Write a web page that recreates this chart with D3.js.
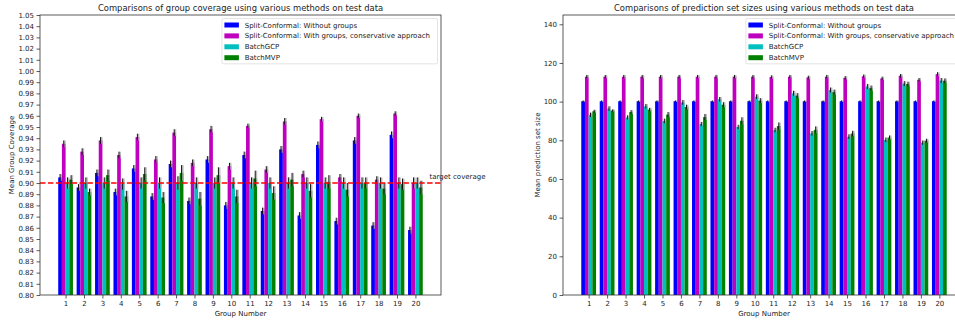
<!DOCTYPE html>
<html>
<head>
<meta charset="utf-8">
<script src="https://cdn.jsdelivr.net/npm/d3@7"></script>
<style>
  body { margin: 0; background: #fff; }
  svg { display: block; font-family: "DejaVu Sans", sans-serif; }
</style>
</head>
<body>
<svg id="fig" width="955" height="322"></svg>
<script>
// ---- data ----
const groups = [1, 2, 3, 4, 5, 6, 7, 8, 9, 10, 11, 12, 13, 14, 15, 16, 17, 18, 19, 20]
const seriesNames = [
  "Split-Conformal: Without groups",
  "Split-Conformal: With groups, conservative approach",
  "BatchGCP",
  "BatchMVP"
]
const seriesColors = ["#0000ff", "#bf00bf", "#00bfbf", "#008000"]

// mean group coverage
const covSplit   = [0.905, 0.896, 0.909, 0.892, 0.913, 0.888, 0.917, 0.884, 0.921, 0.880, 0.925, 0.875, 0.930, 0.871, 0.934, 0.866, 0.938, 0.862, 0.943, 0.858]
const covGroups  = [0.935, 0.928, 0.938, 0.925, 0.941, 0.921, 0.945, 0.918, 0.948, 0.915, 0.951, 0.912, 0.955, 0.908, 0.957, 0.905, 0.960, 0.903, 0.962, 0.900]
const covGCP     = [0.900, 0.900, 0.900, 0.899, 0.900, 0.900, 0.900, 0.900, 0.900, 0.900, 0.900, 0.900, 0.900, 0.900, 0.900, 0.900, 0.900, 0.900, 0.900, 0.900]
const covMVP     = [0.903, 0.892, 0.907, 0.888, 0.908, 0.887, 0.909, 0.886, 0.907, 0.888, 0.904, 0.891, 0.903, 0.893, 0.901, 0.894, 0.900, 0.895, 0.899, 0.896]
const covErrSplit  = [0.003, 0.003, 0.003, 0.003, 0.003, 0.003, 0.003, 0.003, 0.003, 0.003, 0.003, 0.003, 0.003, 0.003, 0.003, 0.003, 0.003, 0.003, 0.003, 0.003]
const covErrGroups = [0.003, 0.003, 0.003, 0.003, 0.003, 0.003, 0.003, 0.003, 0.003, 0.003, 0.002, 0.003, 0.003, 0.003, 0.002, 0.003, 0.002, 0.003, 0.002, 0.005]
const covErrGCP    = [0.005, 0.005, 0.005, 0.005, 0.005, 0.005, 0.006, 0.005, 0.005, 0.005, 0.005, 0.005, 0.005, 0.005, 0.005, 0.005, 0.005, 0.005, 0.005, 0.005]
const covErrMVP    = [0.004, 0.003, 0.005, 0.005, 0.006, 0.005, 0.007, 0.006, 0.007, 0.006, 0.007, 0.006, 0.006, 0.006, 0.006, 0.006, 0.005, 0.005, 0.005, 0.006]

// mean prediction set size
const sizeSplit  = [100.2, 100.2, 100.2, 100.2, 100.2, 100.2, 100.2, 100.2, 100.2, 100.2, 100.2, 100.2, 100.2, 100.2, 100.2, 100.2, 100.2, 100.2, 100.2, 100.2]
const sizeGroups = [112.9, 112.9, 112.9, 112.9, 112.9, 112.9, 112.9, 112.9, 112.9, 112.9, 112.7, 112.9, 112.5, 112.9, 112.3, 113.1, 112.0, 113.4, 111.3, 114.2]
const sizeGCP    = [93.2, 96.4, 91.8, 97.6, 90.0, 99.6, 88.4, 101.2, 86.9, 102.6, 85.3, 104.3, 83.6, 106.0, 81.9, 107.8, 80.2, 109.3, 78.8, 110.9]
const sizeMVP    = [95.0, 95.4, 94.6, 95.9, 93.3, 97.2, 92.0, 98.4, 90.1, 100.5, 87.4, 103.1, 85.4, 104.9, 83.5, 107.0, 81.4, 109.1, 79.8, 110.8]
const sizeErrSplit  = [0.4, 0.4, 0.4, 0.4, 0.4, 0.4, 0.4, 0.4, 0.4, 0.4, 0.4, 0.4, 0.4, 0.4, 0.4, 0.4, 0.4, 0.4, 0.4, 0.4]
const sizeErrGroups = [0.9, 0.9, 0.9, 0.9, 0.9, 0.9, 0.9, 0.9, 0.9, 0.9, 0.9, 0.9, 0.9, 0.9, 0.9, 0.9, 0.9, 0.9, 0.9, 1.0]
const sizeErrGCP    = [1.1, 1.2, 1.1, 1.2, 1.2, 1.2, 1.1, 1.2, 1.1, 1.2, 1.2, 1.3, 1.2, 1.3, 1.2, 1.3, 1.2, 1.3, 1.1, 1.3]
const sizeErrMVP    = [0.8, 0.6, 1.0, 0.9, 1.3, 1.2, 1.6, 1.3, 1.8, 1.3, 1.8, 1.3, 1.8, 1.3, 1.4, 1.3, 1.1, 1.2, 1.0, 1.2]

const coverageTicks = [0.80, 0.81, 0.82, 0.83, 0.84, 0.85, 0.86, 0.87, 0.88, 0.89, 0.90, 0.91, 0.92, 0.93, 0.94, 0.95, 0.96, 0.97, 0.98, 0.99, 1.00, 1.01, 1.02, 1.03, 1.04, 1.05]
const sizeTicks = [0, 20, 40, 60, 80, 100, 120, 140]
const targetCoverage = 0.90

// ---- layout ----
const svg = d3.select("#fig")
svg.append("rect").attr("width", 955).attr("height", 322).attr("fill", "#fff")

const plotTop = 15, plotBottom = 295
const barW = 0.2
const offsets = [-0.3, -0.1, 0.1, 0.3]
const textColor = "#222"

function panel(cfg) {
  const g = svg.append("g")
  const x = d3.scaleLinear().domain([-0.39, 21.39]).range([cfg.left, cfg.right])
  const y = d3.scaleLinear().domain(cfg.yDomain).range([plotBottom, plotTop])

  // bars + error bars
  cfg.values.forEach((vals, si) => {
    const sg = g.append("g")
    sg.selectAll("rect")
      .data(groups)
      .join("rect")
        .attr("x", (d) => x(d + offsets[si] - barW / 2))
        .attr("width", x(barW) - x(0))
        .attr("y", (d, i) => y(vals[i]))
        .attr("height", (d, i) => plotBottom - y(vals[i]))
        .attr("fill", seriesColors[si])
    const errs = cfg.errors[si]
    sg.selectAll("line.grey")
      .data(groups)
      .join("line")
        .attr("class", "grey")
        .attr("x1", (d) => x(d + offsets[si]) + 1.2)
        .attr("x2", (d) => x(d + offsets[si]) + 1.2)
        .attr("y1", (d, i) => y(vals[i] - errs[i]))
        .attr("y2", (d, i) => y(vals[i] + errs[i]))
        .attr("stroke", "#aaa")
        .attr("stroke-opacity", 0.8)
        .attr("stroke-width", 1.6)
    sg.selectAll("line.blk")
      .data(groups)
      .join("line")
        .attr("class", "blk")
        .attr("x1", (d) => x(d + offsets[si]))
        .attr("x2", (d) => x(d + offsets[si]))
        .attr("y1", (d, i) => y(vals[i] - errs[i]))
        .attr("y2", (d, i) => y(vals[i] + errs[i]))
        .attr("stroke", "#111")
        .attr("stroke-width", 1)
  })

  if (cfg.target != null) {
    g.append("line")
      .attr("x1", cfg.left).attr("x2", cfg.right)
      .attr("y1", y(cfg.target)).attr("y2", y(cfg.target))
      .attr("stroke", "#ff0000")
      .attr("stroke-width", 1.6)
      .attr("stroke-dasharray", "5.5,2.4")
    g.append("text")
      .attr("x", cfg.right - 11.5)
      .attr("y", y(cfg.target) - 4.5)
      .attr("font-size", 7)
      .attr("fill", textColor)
      .text("target coverage")
  }

  // axes
  const yAxis = g.append("g")
    .attr("transform", `translate(${cfg.left},0)`)
    .call(d3.axisLeft(y).tickValues(cfg.ticks).tickFormat(cfg.tickFormat).tickSize(3.5).tickPadding(2.5))
  const xAxis = g.append("g")
    .attr("transform", `translate(0,${plotBottom})`)
    .call(d3.axisBottom(x).tickValues(groups).tickFormat(d3.format("d")).tickSize(3.5).tickPadding(2.5))
  for (const ax of [yAxis, xAxis]) {
    ax.select(".domain").remove()
    ax.selectAll("line").attr("stroke", "#333").attr("stroke-width", 0.8)
    ax.selectAll("text")
      .attr("font-size", 7)
      .attr("font-family", "DejaVu Sans, sans-serif")
      .attr("fill", textColor)
  }

  // spines
  g.append("rect")
    .attr("x", cfg.left).attr("y", plotTop)
    .attr("width", cfg.right - cfg.left).attr("height", plotBottom - plotTop)
    .attr("fill", "none")
    .attr("stroke", "#333")
    .attr("stroke-width", 0.8)

  // labels
  g.append("text")
    .attr("x", (cfg.left + cfg.right) / 2)
    .attr("y", 11.3)
    .attr("text-anchor", "middle")
    .attr("font-size", 8.4)
    .attr("fill", textColor)
    .text(cfg.title)
  g.append("text")
    .attr("x", (cfg.left + cfg.right) / 2)
    .attr("y", 316)
    .attr("text-anchor", "middle")
    .attr("font-size", 7)
    .attr("fill", textColor)
    .text("Group Number")
  g.append("text")
    .attr("transform", `translate(${cfg.ylabelX},${(plotTop + plotBottom) / 2}) rotate(-90)`)
    .attr("text-anchor", "middle")
    .attr("font-size", 7)
    .attr("fill", textColor)
    .text(cfg.ylabel)

  // legend
  const lx = cfg.right - 3.5 - 215.6, ly = plotTop + 3.5
  const lg = g.append("g")
  lg.append("rect")
    .attr("x", lx).attr("y", ly)
    .attr("width", 215.6).attr("height", 45.3)
    .attr("rx", 1.5)
    .attr("fill", "#fff").attr("fill-opacity", 0.8)
    .attr("stroke", "#ddd").attr("stroke-width", 0.8)
  seriesNames.forEach((name, i) => {
    const cy = ly + 6.5 + i * 10.9
    lg.append("rect")
      .attr("x", lx + 2.5).attr("y", cy - 2.5)
      .attr("width", 14.5).attr("height", 5)
      .attr("fill", seriesColors[i])
    lg.append("text")
      .attr("x", lx + 22.8).attr("y", cy + 2.5)
      .attr("font-size", 7)
      .attr("fill", textColor)
      .text(name)
  })
}

panel({
  left: 40, right: 441,
  yDomain: [0.80, 1.05],
  ticks: coverageTicks,
  tickFormat: d3.format(".2f"),
  values: [covSplit, covGroups, covGCP, covMVP],
  errors: [covErrSplit, covErrGroups, covErrGCP, covErrMVP],
  target: targetCoverage,
  title: "Comparisons of group coverage using various methods on test data",
  ylabel: "Mean Group Coverage",
  ylabelX: 14
})

panel({
  left: 563, right: 965,
  yDomain: [0, 144.8],
  ticks: sizeTicks,
  tickFormat: d3.format("d"),
  values: [sizeSplit, sizeGroups, sizeGCP, sizeMVP],
  errors: [sizeErrSplit, sizeErrGroups, sizeErrGCP, sizeErrMVP],
  target: null,
  title: "Comparisons of prediction set sizes using various methods on test data",
  ylabel: "Mean prediction set size",
  ylabelX: 540
})
</script>
</body>
</html>
